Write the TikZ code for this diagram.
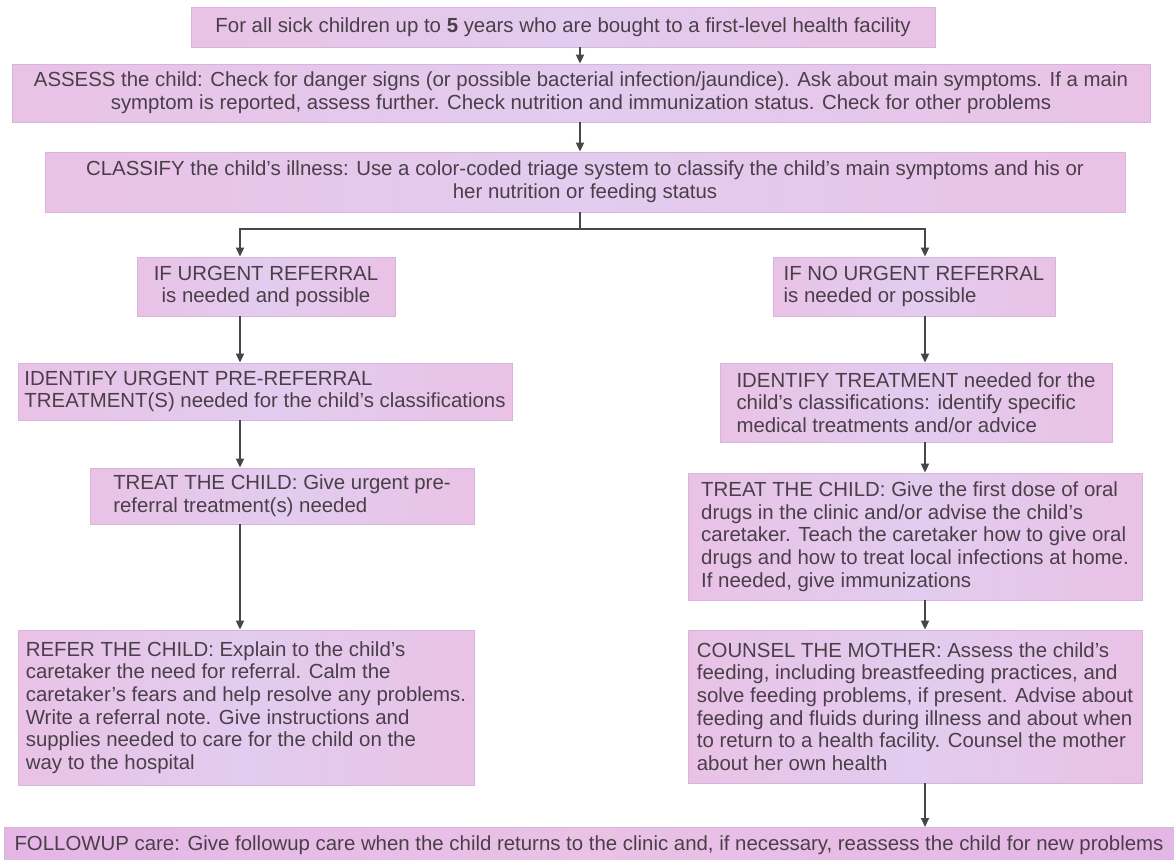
\documentclass[tikz,border=0pt]{standalone}
\usepackage{fontspec}
\setmainfont{Liberation Sans}
\usepackage{tikz}
\usetikzlibrary{arrows.meta, positioning}
\definecolor{pinkedge}{HTML}{E9C2E6}
\definecolor{lilacmid}{HTML}{E2CCEF}
\definecolor{pinkdeep}{HTML}{E4B6E6}
\definecolor{boxline}{HTML}{D7B4DC}
\definecolor{inktext}{HTML}{4A3F49}
\definecolor{inkline}{HTML}{474747}

\begin{document}
\begin{tikzpicture}[
    x=0.5pt, y=-0.5pt,
    font=\fontsize{10.2}{11.35}\selectfont,
    box/.style={rectangle, draw=boxline, line width=0.4pt, left color=pinkedge, right color=pinkedge, middle color=lilacmid, text=inktext, align=center, inner sep=2pt},
    leftbox/.style={box, align=left},
    deepbox/.style={box, left color=pinkdeep, right color=pinkdeep, middle color=pinkedge},
    arrow/.style={-{Triangle[length=4.5pt, width=4pt]}, line width=0.9pt, color=inkline},
    link/.style={line width=0.9pt, color=inkline}
]
    \useasboundingbox (0,0) rectangle (1174,859);
    % columns the connectors run along
    \coordinate (spine) at (580,0);
    \coordinate (lcol) at (240,0);
    \coordinate (rcol) at (925,0);
    \coordinate (fork) at (580,229);

    \node[box, minimum width=372pt, minimum height=20pt] (intro) at (563,27) {For all sick children up to \textbf{5} years who are bought to a first-level health facility};
    \node[box, minimum width=569pt, minimum height=29pt] (assess) at (581,93) {ASSESS the child: Check for danger signs (or possible bacterial infection/jaundice). Ask about main symptoms. If a main\\symptom is reported, assess further. Check nutrition and immunization status. Check for other problems};
    \node[box, minimum width=540pt, minimum height=30pt] (classify) at (585,182) {CLASSIFY the child's illness: Use a color-coded triage system to classify the child's main symptoms and his or\\her nutrition or feeding status};

    % urgent referral branch
    \node[box, minimum width=129pt, minimum height=29.5pt] (ifyes) at (266,286.5) {IF URGENT REFERRAL\\is needed and possible};
    \node[leftbox, minimum width=247pt, minimum height=28.5pt] (idurgent) at (265,391.5) {IDENTIFY URGENT PRE-REFERRAL\\TREATMENT(S) needed for the child's classifications};
    \node[leftbox, minimum width=192pt, minimum height=28pt] (treatleft) at (282,496) {TREAT THE CHILD: Give urgent pre-\\referral treatment(s) needed};
    \node[leftbox, minimum width=228pt, minimum height=77.5pt] (refer) at (246,707.5) {REFER THE CHILD: Explain to the child's\\caretaker the need for referral. Calm the\\caretaker's fears and help resolve any problems.\\Write a referral note. Give instructions and\\supplies needed to care for the child on the\\way to the hospital};

    % no urgent referral branch
    \node[leftbox, minimum width=141pt, minimum height=29.5pt] (ifno) at (914,286.5) {IF NO URGENT REFERRAL\\is needed or possible};
    \node[leftbox, minimum width=196pt, minimum height=39.5pt] (idtreat) at (916,402.5) {IDENTIFY TREATMENT needed for the\\child's classifications: identify specific\\medical treatments and/or advice};
    \node[leftbox, minimum width=227pt, minimum height=63.5pt] (treatright) at (915,536.5) {TREAT THE CHILD: Give the first dose of oral\\drugs in the clinic and/or advise the child's\\caretaker. Teach the caretaker how to give oral\\drugs and how to treat local infections at home.\\If needed, give immunizations};
    \node[leftbox, minimum width=227pt, minimum height=76.5pt] (counsel) at (915,706.5) {COUNSEL THE MOTHER: Assess the child's\\feeding, including breastfeeding practices, and\\solve feeding problems, if present. Advise about\\feeding and fluids during illness and about when\\to return to a health facility. Counsel the mother\\about her own health};

    \node[deepbox, minimum width=585pt, minimum height=18pt, anchor=north] (followup) at (589,827) {FOLLOWUP care: Give followup care when the child returns to the clinic and, if necessary, reassess the child for new problems};

    \draw[arrow] (intro.south -| spine) -- (assess.north -| spine);
    \draw[arrow] (assess.south -| spine) -- (classify.north -| spine);
    \draw[link] (classify.south -| spine) -- (fork);
    \draw[arrow] (fork) -| (ifyes.north -| lcol);
    \draw[arrow] (fork) -| (ifno.north -| rcol);

    \draw[arrow] (ifyes.south -| lcol) -- (idurgent.north -| lcol);
    \draw[arrow] (idurgent.south -| lcol) -- (treatleft.north -| lcol);
    \draw[arrow] (treatleft.south -| lcol) -- (refer.north -| lcol);

    \draw[arrow] (ifno.south -| rcol) -- (idtreat.north -| rcol);
    \draw[arrow] (idtreat.south -| rcol) -- (treatright.north -| rcol);
    \draw[arrow] (treatright.south -| rcol) -- (counsel.north -| rcol);
    \draw[arrow] (counsel.south -| rcol) -- (followup.north -| rcol);
\end{tikzpicture}
\end{document}
